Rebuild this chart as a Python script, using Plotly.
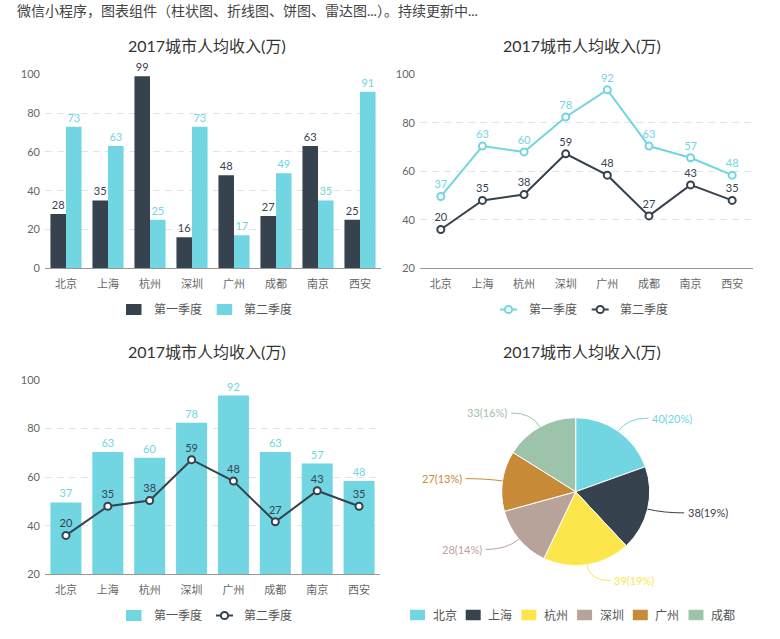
import numpy as np
import plotly.graph_objects as go

W, H = 780, 639

# ---------------- data ----------------
header_text = "微信小程序，图表组件（柱状图、折线图、饼图、雷达图...）。持续更新中..."
chart_title = "2017城市人均收入(万)"
cities = ["北京", "上海", "杭州", "深圳", "广州", "成都", "南京", "西安"]
series_names = ["第一季度", "第二季度"]

bar_q1 = [28, 35, 99, 16, 48, 27, 63, 25]
bar_q2 = [73, 63, 25, 73, 17, 49, 35, 91]

line_q1 = [37, 63, 60, 78, 92, 63, 57, 48]
line_q2 = [20, 35, 38, 59, 48, 27, 43, 35]

bar_tickvals = [0, 20, 40, 60, 80, 100]
line_tickvals = [0, 25, 50, 75, 100]
line_ticktext = ["20", "40", "60", "80", "100"]

pie_labels = ["北京", "上海", "杭州", "深圳", "广州", "成都"]
pie_values = [40, 38, 39, 28, 27, 33]

# ---------------- style ----------------
CYAN = "#71d5e2"
DARK = "#37424f"
PIE_COLORS = ["#71d5e2", "#37424f", "#fde64b", "#b8a39b", "#c78b37", "#9dc4ab"]
FONT = "Lato, 'Noto Sans CJK SC', sans-serif"
GRID = "#e4e4e4"
AXIS = "#999999"
TICK = "#666666"


def px(x):
    return x / W


def py(y):
    return 1 - y / H


fig = go.Figure()

# ---- panel 1: grouped bars ----
for name, vals, col, tcol in [(series_names[0], bar_q1, DARK, DARK),
                              (series_names[1], bar_q2, CYAN, CYAN)]:
    fig.add_trace(go.Bar(
        x=cities, y=vals, name=name, marker=dict(color=col, line=dict(width=0)),
        text=vals, textposition="outside", constraintext="none",
        textfont=dict(size=11, color=tcol, family=FONT), cliponaxis=False,
        xaxis="x", yaxis="y", showlegend=False))

# ---- panel 2: lines ----
for name, vals, col in [(series_names[0], line_q1, CYAN),
                        (series_names[1], line_q2, DARK)]:
    fig.add_trace(go.Scatter(
        x=cities, y=vals, name=name, mode="lines+markers+text",
        line=dict(color=col, width=2),
        marker=dict(symbol="circle", size=7, color="white", line=dict(color=col, width=2)),
        text=vals, textposition="top center",
        textfont=dict(size=11, color=col, family=FONT), cliponaxis=False,
        xaxis="x2", yaxis="y2", showlegend=False))

# ---- panel 3: bar + line ----
fig.add_trace(go.Bar(
    x=cities, y=line_q1, name=series_names[0], marker=dict(color=CYAN, line=dict(width=0)),
    text=line_q1, textposition="outside", constraintext="none",
    textfont=dict(size=11, color=CYAN, family=FONT), cliponaxis=False,
    xaxis="x3", yaxis="y3", showlegend=False))
fig.add_trace(go.Scatter(
    x=cities, y=line_q2, name=series_names[1], mode="lines+markers+text",
    line=dict(color=DARK, width=2),
    marker=dict(symbol="circle", size=7, color="white", line=dict(color=DARK, width=2)),
    text=line_q2, textposition="top center",
    textfont=dict(size=11, color=DARK, family=FONT), cliponaxis=False,
    xaxis="x3", yaxis="y3", showlegend=False))

# ---- panel 4: pie ----
PC = (575.7, 491.7)
PR = 74.0
fig.add_trace(go.Pie(
    labels=pie_labels, values=pie_values, sort=False, direction="clockwise", rotation=0,
    marker=dict(colors=PIE_COLORS, line=dict(color="white", width=1)),
    textinfo="none", hoverinfo="label+value+percent", showlegend=False, automargin=False,
    domain=dict(x=[px(PC[0] - PR), px(PC[0] + PR)], y=[py(PC[1] + PR), py(PC[1] - PR)])))

shapes = []
annotations = []

# pie labels with curved leader lines (computed from the slice angles)
vals = np.array(pie_values, dtype=float)
total = vals.sum()
cum = np.cumsum(vals) - vals / 2
for i, v in enumerate(vals):
    th = np.deg2rad(cum[i] / total * 360.0)
    sx, sy = np.sin(th), -np.cos(th)
    ex, ey = PC[0] + PR * sx, PC[1] + PR * sy
    R2 = PR + 16
    cx, cy = PC[0] + R2 * sx, PC[1] + R2 * sy
    side = 1 if sx >= 0 else -1
    tx, ty = cx + side * 21, cy
    shapes.append(dict(type="path", xref="paper", yref="paper",
                       path=f"M {px(ex)},{py(ey)} Q {px(cx)},{py(cy)} {px(tx)},{py(ty)}",
                       line=dict(color=PIE_COLORS[i], width=1)))
    pct = round(v / total * 100)
    annotations.append(dict(x=px(tx + side * 2), y=py(ty), xref="paper", yref="paper",
                            text=f"{int(v)}({pct}%)", showarrow=False,
                            xanchor="left" if side > 0 else "right", yanchor="middle",
                            font=dict(size=11, color=PIE_COLORS[i], family=FONT)))

# titles
for (tx, ty) in [(206.7, 45), (581.7, 45), (206.7, 351), (581.7, 351)]:
    annotations.append(dict(x=px(tx), y=py(ty), xref="paper", yref="paper", text=chart_title,
                            showarrow=False, xanchor="center", yanchor="middle",
                            font=dict(size=16, color="#333333", family=FONT)))

# header text (kept inside the page at the very top)
annotations.append(dict(x=px(15), y=1, xref="paper", yref="paper", text=header_text,
                        showarrow=False, xanchor="left", yanchor="top",
                        font=dict(size=14, color="#444444", family=FONT)))


# custom legends
def legend(items, x0, step, yc, text_off, sq_w=15.5, sq_h=11):
    for k, (label, col, kind) in enumerate(items):
        x = x0 + k * step
        if kind == "square":
            shapes.append(dict(type="rect", xref="paper", yref="paper",
                               x0=px(x), x1=px(x + sq_w), y0=py(yc + sq_h / 2), y1=py(yc - sq_h / 2),
                               fillcolor=col, line=dict(width=0)))
        else:
            shapes.append(dict(type="line", xref="paper", yref="paper",
                               x0=px(x), x1=px(x + 17), y0=py(yc), y1=py(yc),
                               line=dict(color=col, width=2)))
            shapes.append(dict(type="circle", xref="paper", yref="paper",
                               x0=px(x + 8.5 - 3.6), x1=px(x + 8.5 + 3.6),
                               y0=py(yc + 3.6), y1=py(yc - 3.6),
                               fillcolor="white", line=dict(color=col, width=2)))
        annotations.append(dict(x=px(x + text_off), y=py(yc), xref="paper", yref="paper",
                                text=label, showarrow=False, xanchor="left", yanchor="middle",
                                font=dict(size=12, color="#555555", family=FONT)))


legend([(series_names[0], DARK, "square"), (series_names[1], CYAN, "square")], 126, 90.7, 309.5, 25.7)
legend([(series_names[0], CYAN, "line"), (series_names[1], DARK, "line")], 500, 91.7, 309.5, 26.7)
legend([(series_names[0], CYAN, "square"), (series_names[1], DARK, "line")], 126, 90.0, 615.5, 25.7)
legend([(lab, PIE_COLORS[i], "square") for i, lab in enumerate(pie_labels)], 410, 55.7, 615, 20.5, sq_w=15, sq_h=10.5)

xcommon = dict(type="category", range=[-0.5, 7.5], showgrid=False, showline=True, linecolor=AXIS,
               linewidth=1, ticks="", zeroline=False, ticklabelstandoff=5, automargin=False,
               tickfont=dict(size=11, color=TICK, family=FONT), fixedrange=True)
ycommon = dict(range=[0, 100], showgrid=True, gridcolor=GRID, griddash="7px,5px", gridwidth=1,
               showline=False, zeroline=False, ticks="", ticklabelstandoff=4, automargin=False,
               tickfont=dict(size=11, color=TICK, family=FONT), fixedrange=True)

fig.update_layout(
    template="none",
    width=W, height=H, margin=dict(l=0, r=0, t=0, b=0, pad=0, autoexpand=False),
    paper_bgcolor="white", plot_bgcolor="white", showlegend=False,
    font=dict(family=FONT, color="#333333"),
    barmode="group", bargap=0.26, bargroupgap=0,
    xaxis=dict(xcommon, domain=[px(45), px(381)], anchor="y"),
    yaxis=dict(ycommon, domain=[py(268.3), py(74.3)], anchor="x", tickvals=bar_tickvals),
    xaxis2=dict(xcommon, domain=[px(420), px(753)], anchor="y2"),
    yaxis2=dict(ycommon, domain=[py(268.3), py(74.3)], anchor="x2",
                tickvals=line_tickvals, ticktext=line_ticktext),
    xaxis3=dict(xcommon, domain=[px(45), px(380)], anchor="y3"),
    yaxis3=dict(ycommon, domain=[py(574.3), py(380)], anchor="x3",
                tickvals=line_tickvals, ticktext=line_ticktext),
    shapes=shapes, annotations=annotations,
)

fig.write_html("out.html", config={"displayModeBar": False},
               post_script="document.body.style.margin='0';document.body.style.overflow='hidden';")
